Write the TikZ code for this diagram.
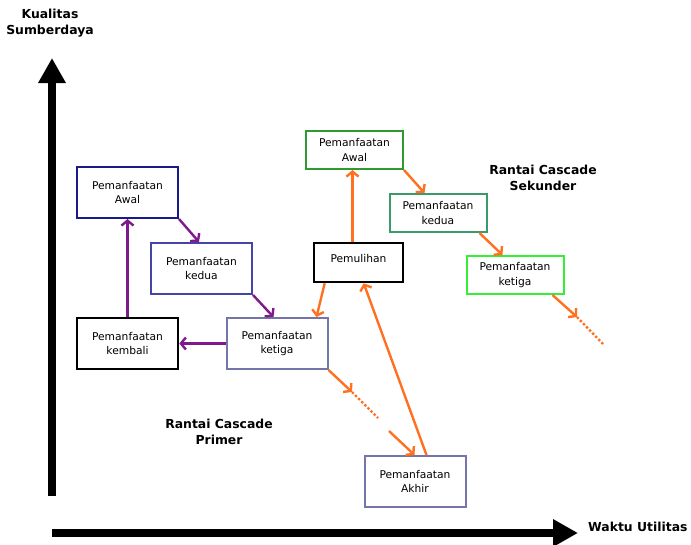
\documentclass[tikz,border=0pt]{standalone}
\usepackage{fontspec}
\setmainfont{DejaVu Sans}
\usetikzlibrary{arrows.meta}
\definecolor{purp}{HTML}{7F1A8C}
\definecolor{orng}{HTML}{FF7020}
\definecolor{navy1}{HTML}{1A1A8A}
\definecolor{blue2}{HTML}{4545A8}
\definecolor{lav}{HTML}{7575AA}
\definecolor{grn1}{HTML}{2F9A2F}
\definecolor{grn2}{HTML}{3A9A6A}
\definecolor{grn3}{HTML}{35EE35}
\tikzset{
  box/.style={draw, line width=2pt, minimum width=101pt, minimum height=51pt, inner sep=0pt, align=center, font=\fontsize{10.7}{14.3}\selectfont},
  sbox/.style={box, minimum width=97pt, minimum height=38pt},
  blk/.style={line width=2.6pt},
  parr/.style={draw=purp, line width=2.4pt, -{Straight Barb[length=5pt,width=12pt]}},
  oarr/.style={draw=orng, line width=2.4pt, -{Straight Barb[length=5pt,width=12pt]}},
  odot/.style={draw=orng, line width=2.4pt, dotted},
  axis/.style={line width=8pt, -{Triangle[length=25pt,width=26pt]}},
  lbl/.style={font=\fontsize{12.4}{16.5}\selectfont\bfseries, align=center, inner sep=0pt}
}
\begin{document}
\begin{tikzpicture}[x=1pt,y=-1pt]
\useasboundingbox (0,0) rectangle (691,544);
% axes
\coordinate (vbot) at (52,496);
\coordinate (vtop) at (52,58);
\coordinate (hl) at (52,533);
\coordinate (hr) at (578,533);
\draw[axis] (vbot) -- (vtop);
\draw[axis] (hl) -- (hr);
\node[lbl] (ylab) at (50,23) {Kualitas\\Sumberdaya};
\node[lbl, anchor=west] (xlab) at (588,527) {Waktu Utilitas};
\node[lbl] (prim) at (219,432) {Rantai Cascade\\Primer};
\node[lbl] (sek) at (543,178) {Rantai Cascade\\Sekunder};
% primary boxes
\node[box, draw=navy1] (a1) at (127.5,192.5) {Pemanfaatan\\Awal};
\node[box, draw=blue2] (k1) at (201.5,268.5) {Pemanfaatan\\kedua};
\node[box, draw=black, blk] (kb) at (127.5,343.5) {Pemanfaatan\\kembali};
\node[box, draw=lav] (t1) at (277,343.5) {Pemanfaatan\\ketiga};
\node[box, draw=lav] (ak) at (415,481.5) {Pemanfaatan\\Akhir};
% secondary boxes
\node[sbox, draw=black, blk, minimum width=89pt, minimum height=39pt, text depth=9pt] (pm) at (358.5,262.5) {Pemulihan};
\node[sbox, draw=grn1] (a2) at (354.5,150) {Pemanfaatan\\Awal};
\node[sbox, draw=grn2] (k2) at (438,213) {Pemanfaatan\\kedua};
\node[sbox, draw=grn3] (t2) at (515,275) {Pemanfaatan\\ketiga};
% purple arrows
\draw[parr] (a1.south east) -- ([xshift=49pt]k1.north west);
\draw[parr] (k1.south east) -- ([xshift=48pt]t1.north west);
\draw[parr] (t1.west) -- (kb.east);
\draw[parr] (kb.north) -- (a1.south);
% orange arrows
\draw[oarr] ([xshift=12pt]pm.south west) -- ([xshift=-12pt]t1.north east);
\draw[oarr] ([xshift=-6pt]pm.north) -- ([xshift=-2pt]a2.south);
\draw[oarr] (a2.south east) -- ([xshift=36pt]k2.north west);
\draw[oarr] ([xshift=-8pt]k2.south east) -- ([xshift=37pt]t2.north west);
\coordinate (d2s) at (577,317);
\coordinate (d2e) at (603,344);
\draw[oarr] ([xshift=-12pt]t2.south east) -- (d2s);
\draw[odot] (d2s) -- (d2e);
\coordinate (d1s) at (352,392);
\coordinate (d1e) at (378,418);
\coordinate (d1r) at (389,431);
\draw[oarr] (t1.south east) -- (d1s);
\draw[odot] (d1s) -- (d1e);
\draw[oarr] (d1r) -- ([xshift=51pt]ak.north west);
\draw[oarr] ([xshift=63pt]ak.north west) -- ([xshift=51pt]pm.south west);
\end{tikzpicture}
\end{document}
